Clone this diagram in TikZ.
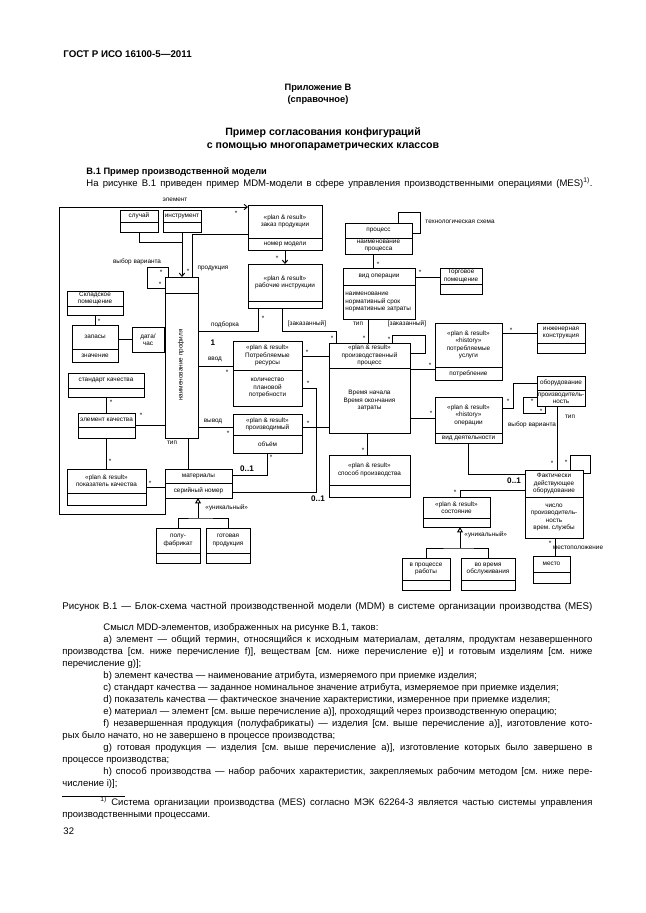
\documentclass[tikz,border=0pt]{standalone}
\usepackage{fontspec}
\setmainfont{Liberation Sans}
\usetikzlibrary{arrows.meta,fit}
\frenchspacing

\newlength\pxl
\setlength\pxl{0.0325cm}
\newcommand\dgfont{\fontsize{5.9}{6.8}\selectfont}
\newcommand\bodyfont{\fontsize{8.8}{10}\selectfont}
\newcommand\planres{«plan \& result»}
\newcommand\fullrow[1]{\makebox[530\pxl][s]{#1}}
\newcommand\indrow[1]{\makebox[489\pxl][s]{#1}}

% class box: name, x1, y1, x2, y2, divider, upper text, lower text
\newcommand\umlclass[8]{%
  \node[classbox, fit={(#2,#3) (#4,#5)}] (#1) {};
  \draw (#2,#6) -- (#4,#6);
  \node[classtext] (#1-top) at ({(#2+#4)/2},{(#3+#6)/2}) {#7};
  \node[classtext] (#1-bot) at ({(#2+#4)/2},{(#6+#5)/2}) {#8};
}

\begin{document}
\begin{tikzpicture}[x=0.0325cm,y=-0.0325cm,line width=0.85pt]
    \tikzstyle{classbox}=[draw, inner sep=0pt, outer sep=0pt]
    \tikzstyle{classtext}=[font=\dgfont, align=center, inner sep=0pt]
    \tikzstyle{lbl}=[font=\dgfont, inner sep=0pt]
    \tikzstyle{mult}=[font=\dgfont, inner sep=0pt]
    \tikzstyle{bigmult}=[font=\bfseries\fontsize{7.5}{8}\selectfont, inner sep=0pt]
    \tikzstyle{nav}=[-{Straight Barb[length=3pt,width=5pt]}]
    \tikzstyle{gen}=[-{Triangle[open,length=5pt,width=5.5pt]}]
    \tikzstyle{body}=[font=\bodyfont, anchor=mid west, inner sep=0pt]

    \useasboundingbox (0,0) rectangle (646,913);

    % Page head
    \node[font=\bfseries\fontsize{9}{11}\selectfont, anchor=mid west, inner sep=0pt] (gost) at (63,55) {ГОСТ Р ИСО 16100-5—2011};
    \node[font=\bfseries\fontsize{8.6}{10}\selectfont, inner sep=0pt] (app) at (318,88) {Приложение В};
    \node[font=\bfseries\fontsize{8.6}{10}\selectfont, inner sep=0pt] (spr) at (318,100) {(справочное)};
    \node[font=\bfseries\fontsize{9.8}{12}\selectfont, inner sep=0pt] (title1) at (323,133) {Пример согласования конфигураций};
    \node[font=\bfseries\fontsize{9.8}{12}\selectfont, inner sep=0pt] (title2) at (323,147) {с помощью многопараметрических классов};
    \node[font=\bfseries\fontsize{8.6}{10}\selectfont, anchor=mid west, inner sep=0pt] (sect) at (86,172) {В.1 Пример производственной модели};
    \node[body] (intro) at (86,184) {\makebox[506\pxl][s]{На рисунке В.1 приведен пример MDM-модели в сфере управления производственными операциями (MES)\textsuperscript{1)}.}};

    % Draw the class boxes
    \umlclass{zakaz}{248}{205}{322}{250}{238}{\planres\\заказ продукции}{номер модели}
    \umlclass{sluchai}{120}{210}{158}{232}{222}{случай}{}
    \umlclass{instr}{163}{210}{201}{232}{222}{инструмент}{}
    \umlclass{profil}{165}{277}{198}{438}{293}{}{}
    \node[classtext, rotate=90] (profil-name) at (181,365) {наименование профиля};
    \umlclass{sklad}{67}{291}{123}{315}{306}{Складское\\помещение}{}
    \umlclass{zapasy}{72}{325}{118}{362}{349}{запасы}{значение}
    \node[classbox, fit={(132,327) (164,352)}] (data) {};
    \node[classtext] (data-txt) at (data.center) {дата/\\час};
    \umlclass{standart}{68}{373}{144}{397}{388}{стандарт качества}{}
    \umlclass{element}{78}{413}{135}{438}{427}{элемент качества}{}
    \umlclass{pokazatel}{67}{469}{146}{505}{493}{\planres\\показатель качества}{}
    \umlclass{materialy}{165}{469}{232}{498}{483}{материалы}{серийный номер}
    \umlclass{polufab}{156}{528}{200}{563}{553}{полу-\\фабрикат}{}
    \umlclass{gotovaya}{206}{528}{250}{563}{553}{готовая\\продукция}{}
    \umlclass{rabinstr}{248}{264}{322}{308}{301}{\planres\\рабочие инструкции}{}
    \umlclass{resursy}{233}{341}{302}{406}{370}{\planres\\Потребляемые\\ресурсы}{количество\\плановой\\потребности}
    \umlclass{proizv}{233}{414}{302}{453}{435}{\planres\\производимый}{объём}
    \umlclass{process}{329}{343}{410}{433}{368}{\planres\\производственный\\процесс}{Время начала\\Время окончания\\затраты}
    \umlclass{sposob}{329}{455}{410}{497}{485}{\planres\\способ производства}{}
    \umlclass{processT}{345}{223}{412}{254}{238}{процесс}{наименование\\процесса}
    \umlclass{vidop}{343}{268}{415}{319}{285}{вид операции}{}
    \node[classtext, align=left, anchor=west] (vidop-attr) at (345,302) {наименование\\нормативный срок\\нормативные затраты};
    \umlclass{torg}{440}{268}{482}{294}{284}{Торговое\\помещение}{}
    \umlclass{uslugi}{435}{323}{502}{380}{367}{\planres\\«history»\\потребляемые\\услуги}{потребление}
    \umlclass{inzh}{537}{323}{585}{353}{343}{инженерная\\конструкция}{}
    \umlclass{operacii}{435}{397}{502}{443}{433}{\planres\\«history»\\операции}{вид деятельности}
    \umlclass{oborud}{537}{376}{585}{406}{390}{оборудование}{производитель-\\ность}
    \umlclass{fakt}{525}{470}{583}{538}{497}{Фактически\\действующее\\оборудование}{число\\производитель-\\ность\\врем. службы}
    \umlclass{sostoyanie}{423}{497}{490}{527}{518}{\planres\\состояние}{}
    \umlclass{vprocesse}{402}{558}{450}{590}{580}{в процессе\\работы}{}
    \umlclass{obsluzh}{461}{558}{515}{590}{580}{во время\\обслуживания}{}
    \umlclass{mesto}{533}{556}{570}{583}{572}{место}{}

    % Outer association
    \draw[nav] (materialy.south west) |- (59,514) -- (59,207) -- (zakaz.west |- 0,207);
    \node[lbl] (l-elem) at (175,200) {элемент};
    \node[mult] (m-elem) at (236,213) {*};

    % Left part
    \draw (sluchai.south) |- (instr.south |- 0,242);
    \draw[nav] (instr.south) -- (instr.south |- profil.north);
    \node[mult] (m-instr) at (188,271) {*};
    \draw (profil.north -| 192,0) |- (zakaz.west |- 0,234);
    \node[lbl] (l-prod) at (213,268) {продукция};
    \draw (profil.north -| 168,0) |- (147,267) |- (profil.west |- 0,288);
    \node[lbl] (l-vybor1) at (137,262) {выбор варианта};
    \node[mult] (m-vybor1a) at (161,272) {*};
    \node[mult] (m-vybor1b) at (160,284) {*};
    \draw (sklad.south) -- (zapasy.north);
    \node[mult] (m-sklad) at (99,321) {*};
    \draw (zapasy.east |- data.west) -- (data.west);
    \draw (element.north |- standart.south) -- (element.north);
    \node[mult] (m-std) at (111,402) {*};
    \draw (element.east) -- (element.east -| profil.west);
    \node[mult] (m-elq) at (141,415) {*};
    \draw (element.south) -- (pokazatel.north);
    \node[mult] (m-pok1) at (110,461) {*};
    \draw (pokazatel.east) -- (pokazatel.east -| materialy.west);
    \node[mult] (m-pok2) at (150,483) {*};
    \draw (profil.south -| 188,0) -- (materialy.north -| 188,0);
    \node[lbl] (l-tip1) at (172,443) {тип};

    % Generalization of materials
    \coordinate (g1) at (198,518);
    \draw[gen] (g1) -- (materialy.south -| g1);
    \draw (polufab.north) |- (g1) -| (gotovaya.north);
    \node[lbl, anchor=west] (l-uniq1) at (205,508) {«уникальный»};

    % Materials to resources
    \draw (materialy.east |- 0,475) -| (proizv.south -| 267,0);
    \node[bigmult] (m-01a) at (247,469) {0..1};
    \node[mult] (m-proizv) at (271,457) {*};
    \draw (materialy.east |- 0,492) -| (316,388) -- (resursy.east |- 0,388);
    \node[bigmult] (m-01b) at (318,499) {0..1};
    \node[mult] (m-res) at (308,383) {*};

    % Profile links
    \draw (profil.east |- 0,331) -| (rabinstr.south -| 258,0);
    \node[lbl] (l-podb) at (225,325) {подборка};
    \node[mult] (m-podb) at (263,318) {*};
    \node[bigmult] (m-one) at (213,343) {1};
    \draw (profil.east |- 0,366) -- (resursy.west |- 0,366);
    \node[lbl] (l-vvod) at (215,359) {ввод};
    \node[mult] (m-vvod) at (227,372) {*};
    \draw (profil.east |- 0,427) -- (proizv.west |- 0,427);
    \node[lbl] (l-vyvod) at (213,421) {вывод};
    \node[mult] (m-vyvod) at (228,433) {*};

    % Order and instructions
    \draw[nav] (zakaz.south) -- (rabinstr.north);
    \node[mult] (m-zak) at (277,258) {*};
    \draw (rabinstr.south -| 282,0) |- (336,331) -- (process.north -| 336,0);
    \node[lbl] (l-zak1) at (307,324) {[заказанный]};
    \node[mult] (m-zak1) at (332,338) {*};

    % Production process
    \draw (resursy.east |- 0,356) -- (process.west |- 0,356);
    \node[mult] (m-pp1) at (307,352) {*};
    \draw (proizv.east |- 0,427) -- (process.west |- 0,427);
    \node[mult] (m-pp2) at (308,423) {*};
    \draw (process.south -| 367,0) -- (sposob.north -| 367,0);
    \node[mult] (m-sp) at (363,450) {*};
    \draw (process.north -| 392,0) |- (425,335) |- (process.east |- 0,353);
    \node[lbl] (l-zak2) at (407,324) {[заказанный]};
    \node[mult] (m-zak2) at (389,339) {*};

    % Process and operation
    \draw (processT.south -| 373,0) -- (vidop.north -| 373,0);
    \node[mult] (m-vid) at (378,264) {*};
    \draw (processT.north -| 398,0) |- (420,212) |- (processT.east |- 0,233);
    \node[lbl, anchor=west] (l-tech) at (425,222) {технологическая схема};
    \draw (vidop.east |- 0,277) -- (torg.west |- 0,277);
    \node[mult] (m-torg) at (420,272) {*};
    \draw (vidop.south -| 368,0) -- (process.north -| 368,0);
    \node[lbl] (l-tip2) at (358,324) {тип};
    \node[mult] (m-tip2) at (364,338) {*};

    % Right part
    \draw (process.east |- 0,369) -- (uslugi.west |- 0,369);
    \node[mult] (m-usl) at (430,365) {*};
    \draw (uslugi.east |- 0,333) -- (inzh.west |- 0,333);
    \node[mult] (m-inzh) at (511,330) {*};
    \draw (process.east |- 0,418) -- (operacii.west |- 0,418);
    \node[mult] (m-oper) at (431,413) {*};
    \draw (operacii.east |- 0,408) -| (513,383) -- (oborud.west |- 0,383);
    \node[mult] (m-obor) at (508,401) {*};
    \draw (oborud.west |- 0,397) -| (523,413) -| (oborud.south -| 545,0);
    \node[mult] (m-vybor2a) at (532,401) {*};
    \node[mult] (m-vybor2b) at (541,411) {*};
    \node[lbl] (l-vybor2) at (532,425) {выбор варианта};
    \draw (oborud.south -| 557,0) -- (fakt.north -| 557,0);
    \node[lbl] (l-tip3) at (570,417) {тип};
    \node[mult] (m-tip3) at (552,463) {*};
    \draw (operacii.south) |- (fakt.west |- 0,474);
    \node[bigmult] (m-01c) at (514,481) {0..1};
    \draw (fakt.north -| 570,0) |- (590,455) |- (fakt.east |- 0,473);
    \node[mult] (m-fakt) at (566,462) {*};
    \draw (fakt.west |- 0,490) -| (sostoyanie.north -| 460,0);
    \node[mult] (m-sost) at (455,492) {*};
    \coordinate (g2) at (460,548);
    \draw[gen] (g2) -- (sostoyanie.south -| g2);
    \draw (vprocesse.north) |- (g2) -| (obsluzh.north);
    \node[lbl, anchor=west] (l-uniq2) at (464,535) {«уникальный»};
    \draw (fakt.south -| 555,0) -- (mesto.north -| 555,0);
    \node[mult] (m-mesto) at (550,543) {*};
    \node[lbl] (l-mesto) at (578,548) {местоположение};

    % Caption and text
    \node[body, font=\fontsize{9}{10}\selectfont] (caption) at (62,607) {\fullrow{Рисунок В.1 — Блок-схема частной производственной модели (MDM) в системе организации производства (MES)}};
    \node[body] (p0) at (103,628) {Смысл MDD-элементов, изображенных на рисунке В.1, таков:};
    \node[body] (p1) at (103,640) {\indrow{а) элемент — общий термин, относящийся к исходным материалам, деталям, продуктам незавершенного}};
    \node[body] (p2) at (62,652) {\fullrow{производства [см. ниже перечисление f)], веществам [см. ниже перечисление е)] и готовым изделиям [см. ниже}};
    \node[body] (p3) at (62,664) {перечисление g)];};
    \node[body] (p4) at (103,676) {b) элемент качества — наименование атрибута, измеряемого при приемке изделия;};
    \node[body] (p5) at (103,688) {c) стандарт качества — заданное номинальное значение атрибута, измеряемое при приемке изделия;};
    \node[body] (p6) at (103,700) {d) показатель качества — фактическое значение характеристики, измеренное при приемке изделия;};
    \node[body] (p7) at (103,712) {е) материал — элемент [см. выше перечисление а)], проходящий через производственную операцию;};
    \node[body] (p8) at (103,724) {\indrow{f) незавершенная продукция (полуфабрикаты) — изделия [см. выше перечисление а)], изготовление кото-}};
    \node[body] (p9) at (62,736) {рых было начато, но не завершено в процессе производства;};
    \node[body] (p10) at (103,748) {\indrow{g) готовая продукция — изделия [см. выше перечисление а)], изготовление которых было завершено в}};
    \node[body] (p11) at (62,760) {процессе производства;};
    \node[body] (p12) at (103,772) {\indrow{h) способ производства — набор рабочих характеристик, закрепляемых рабочим методом [см. ниже пере-}};
    \node[body] (p13) at (62,784) {числение i)];};
    \draw[line width=0.5pt] (62,796) -- (125,796);
    \node[body] (fn1) at (100,803) {\makebox[492\pxl][s]{\textsuperscript{1)} Система организации производства (MES) согласно МЭК 62264-3 является частью системы управления}};
    \node[body] (fn2) at (62,815) {производственными процессами.};
    \node[body] (page) at (63,832) {32};
\end{tikzpicture}
\end{document}
